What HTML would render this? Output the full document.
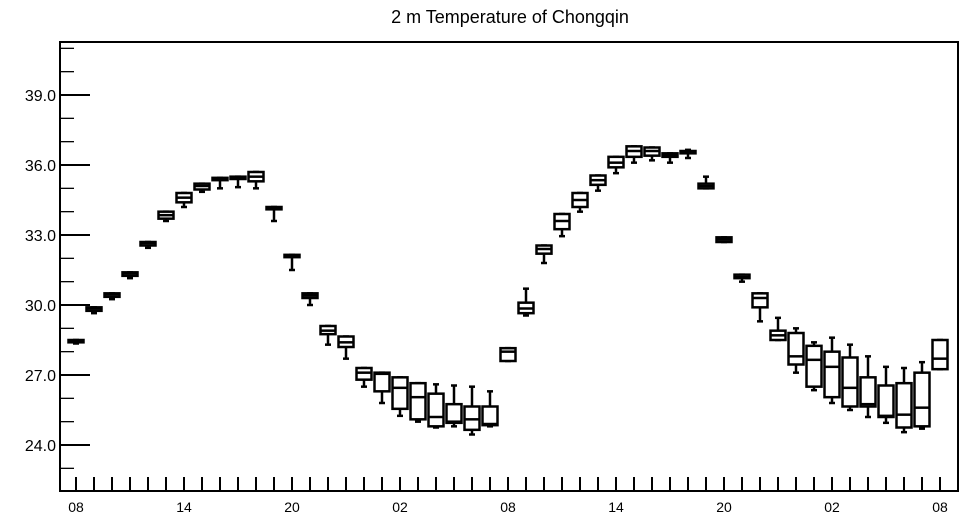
<!DOCTYPE html>
<html><head><meta charset="utf-8"><style>
html,body{margin:0;padding:0;background:#fff;}
svg{display:block;font-family:"Liberation Sans",sans-serif;}
</style></head><body>
<svg id="chart" width="964" height="520" viewBox="0 0 964 520">
<text x="510" y="23" text-anchor="middle" font-size="18">2 m Temperature of Chongqin</text>
<g id="axes"></g>
<g id="boxes"></g>
</svg>
<script>
const hourLabels = ["08","14","20","02","08","14","20","02","08"];
const yTicks = [24.0, 27.0, 30.0, 33.0, 36.0, 39.0];
const q1s  = [28.4,29.75,30.35,31.25,32.55,33.7,34.4,34.95,35.35,35.4,35.3,34.1,32.05,30.3,28.75,28.2,26.8,26.3,25.55,25.1,24.8,24.95,24.65,24.85,27.6,29.65,32.2,33.25,34.2,35.15,35.9,36.35,36.4,36.35,36.5,35.0,32.7,31.15,29.9,28.5,27.45,26.5,26.05,25.65,25.65,25.2,24.75,24.8,27.25];
const q3s  = [28.5,29.9,30.5,31.4,32.7,34.0,34.8,35.2,35.45,35.5,35.7,34.2,32.15,30.5,29.1,28.65,27.3,27.1,26.9,26.65,26.2,25.75,25.65,25.65,28.15,30.1,32.55,33.9,34.8,35.55,36.35,36.8,36.75,36.5,36.6,35.2,32.9,31.3,30.5,28.9,28.8,28.25,28.0,27.75,26.9,26.55,26.65,27.1,28.5];
const meds = [28.45,29.85,30.45,31.35,32.65,33.85,34.6,35.1,35.4,35.45,35.5,34.15,32.1,30.4,28.9,28.4,27.1,27.05,26.45,26.05,25.2,25.0,25.1,24.9,28.0,29.85,32.4,33.6,34.5,35.35,36.1,36.6,36.6,36.4,36.55,35.1,32.8,31.2,30.3,28.7,27.8,27.65,27.35,26.45,25.75,25.25,25.3,25.6,27.7];
const mins = [28.35,29.65,30.25,31.15,32.45,33.6,34.2,34.85,35.0,35.05,35.0,33.6,31.5,30.0,28.3,27.7,26.5,25.8,25.25,25.0,24.75,24.8,24.45,24.8,27.6,29.55,31.8,32.95,34.0,34.9,35.65,36.1,36.2,36.1,36.3,35.0,32.7,31.0,29.3,28.5,27.1,26.35,25.8,25.5,25.2,24.95,24.55,24.7,27.25];
const maxs = [28.5,29.9,30.5,31.4,32.7,34.0,34.8,35.2,35.45,35.5,35.7,34.2,32.15,30.5,29.1,28.65,27.3,27.1,26.9,26.65,26.6,26.55,26.5,26.3,28.15,30.7,32.55,33.9,34.8,35.55,36.35,36.8,36.75,36.5,36.65,35.5,32.9,31.3,30.5,29.45,29.0,28.4,28.6,28.3,27.8,27.35,27.3,27.55,28.5];

const NS="http://www.w3.org/2000/svg";
const L=60,R=958,T=42,B=491;
const y = v => 445 - (v-24)*70/3;
const x = i => 76 + 18*i;
function mk(tag, attrs, parent){const e=document.createElementNS(NS,tag);for(const k in attrs)e.setAttribute(k,attrs[k]);parent.appendChild(e);return e;}
const axes=document.getElementById('axes'), boxes=document.getElementById('boxes');

const frame=mk('rect',{x:L,y:T,width:R-L,height:B-T,fill:'none',stroke:'#000','stroke-width':2},axes);



for(let v=22; v<=41; v+=1){
  const yy=y(v); if(yy<T||yy>B) continue;
  const major = yTicks.indexOf(v)>=0;
  const t=mk('line',{x1:L,x2:L+(major?30:14),y1:yy,y2:yy,stroke:'#000','stroke-width':major?2:1.3},axes);
  
  
}
yTicks.forEach(v=>{
  const t=mk('text',{x:L-4,y:y(v)+6,'text-anchor':'end','font-size':16},axes);
  t.textContent=v.toFixed(1);
  
  
});
for(let i=0;i<q1s.length;i++){
  const t=mk('line',{x1:x(i),x2:x(i),y1:B-14,y2:B,stroke:'#000','stroke-width':2},axes);
  
  
}
hourLabels.forEach((s,k)=>{
  const t=mk('text',{x:x(k*6),y:512,'text-anchor':'middle','font-size':14},axes);
  t.textContent=s;
  
  
});

for(let i=0;i<q1s.length;i++){
  const g=mk('g',{stroke:'#000','stroke-width':2.5,fill:'none'},boxes);
  
  
  const cx=x(i), hw=7.5;
  mk('line',{x1:cx,x2:cx,y1:y(maxs[i]),y2:y(q3s[i])},g);
  mk('line',{x1:cx,x2:cx,y1:y(q1s[i]),y2:y(mins[i])},g);
  mk('line',{x1:cx-3,x2:cx+3,y1:y(maxs[i]),y2:y(maxs[i])},g);
  mk('line',{x1:cx-3,x2:cx+3,y1:y(mins[i]),y2:y(mins[i])},g);
  const top=y(q3s[i]), bot=y(q1s[i]);
  mk('rect',{x:cx-hw,y:top,width:2*hw,height:Math.max(bot-top,2),fill:'#fff'},g);
  mk('line',{x1:cx-hw,x2:cx+hw,y1:y(meds[i]),y2:y(meds[i])},g);
}
</script>
</body></html>
